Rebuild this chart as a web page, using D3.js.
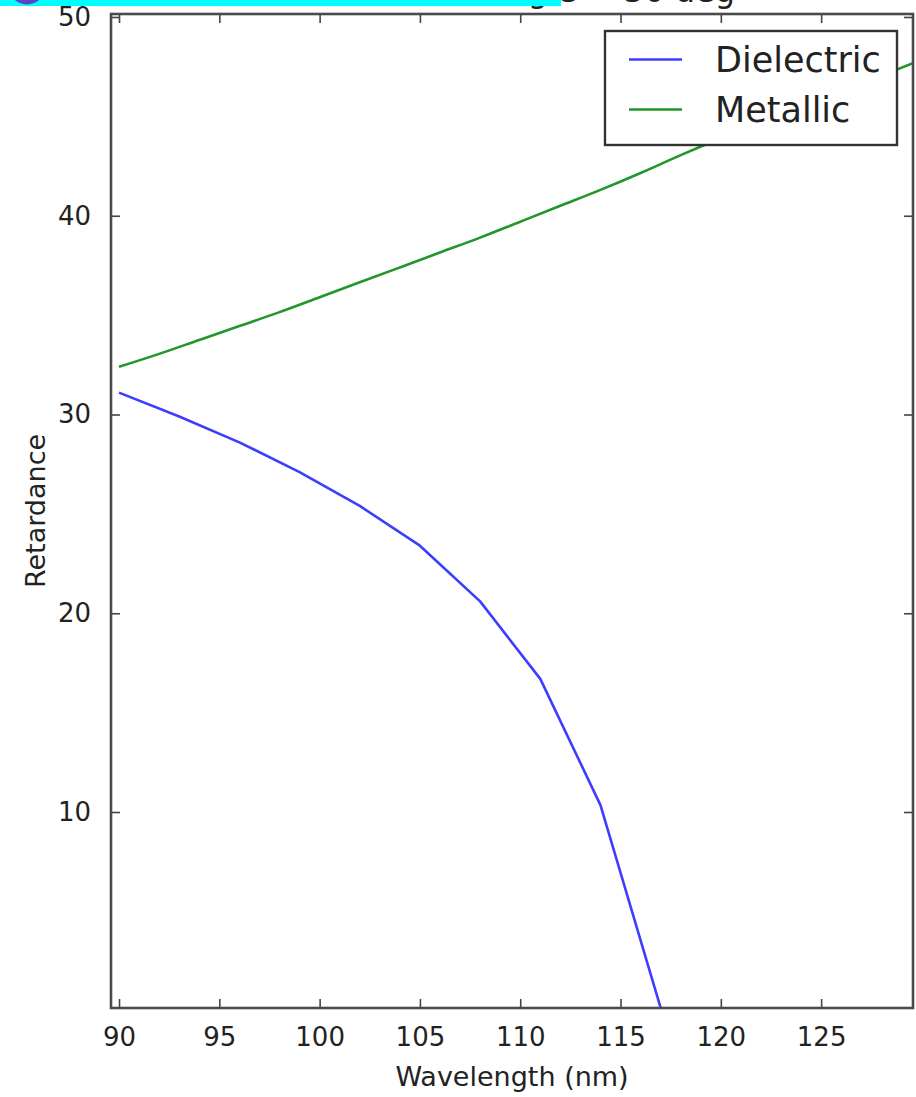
<!DOCTYPE html>
<html>
<head>
<meta charset="utf-8">
<script src="https://cdn.jsdelivr.net/npm/d3@7"></script>
<style>
  html, body { margin: 0; padding: 0; background: #fff; }
  svg { display: block; }
  text { font-family: "DejaVu Sans", sans-serif; fill: #222; }
</style>
</head>
<body>
<svg id="chart" width="916" height="1097"></svg>
<script>
// ---- data ----
const dielectricX = [90, 93, 96, 99, 102, 105, 108, 111, 114, 117];
const dielectricY = [31.1, 29.9, 28.6, 27.1, 25.4, 23.4, 20.6, 16.7, 10.35, 0.15];
const metallicX = [90, 92, 94, 96, 98, 100, 102, 104, 106, 108, 110, 112, 114, 116, 118, 120, 122, 124, 126, 128, 130];
const metallicY = [32.4, 33.05, 33.75, 34.45, 35.15, 35.9, 36.65, 37.4, 38.15, 38.9, 39.7, 40.5, 41.3, 42.15, 43.05, 43.9, 44.7, 45.5, 46.3, 47.05, 47.85];
const xTicks = [90, 95, 100, 105, 110, 115, 120, 125];
const yTicks = [10, 20, 30, 40, 50];
const seriesNames = ["Dielectric", "Metallic"];
const seriesColors = ["#3d3dff", "#22962a"];
const xDomain = [89.6, 129.58];
const yDomain = [0.14, 50.15];
const titleText = "Incidence angle = 50 deg";

// ---- layout ----
const L = 111, R = 913, T = 14, B = 1008;
const svg = d3.select("#chart");
const x = d3.scaleLinear().domain(xDomain).range([L, R]);
const y = d3.scaleLinear().domain(yDomain).range([B, T]);

// title (mostly cut off at the top)
svg.append("text").attr("x", 735).attr("y", 2).attr("text-anchor", "end")
  .attr("font-size", 32).text(titleText);
// cyan band and purple circle over the top
svg.append("rect").attr("x", 0).attr("y", 0).attr("width", 561).attr("height", 6).attr("fill", "#00ffff");
svg.append("circle").attr("cx", 27).attr("cy", -14).attr("r", 18.5).attr("fill", "#5a44c8");

svg.append("defs").append("clipPath").attr("id", "clip")
  .append("rect").attr("x", L).attr("y", T).attr("width", R - L).attr("height", B - T);

const series = [
  dielectricX.map((v, i) => [v, dielectricY[i]]),
  metallicX.map((v, i) => [v, metallicY[i]])
];
const curves = [d3.curveLinear, d3.curveMonotoneX];
const g = svg.append("g").attr("clip-path", "url(#clip)");
series.forEach((s, i) => {
  const line = d3.line().x(d => x(d[0])).y(d => y(d[1])).curve(curves[i]);
  g.append("path").datum(s).attr("d", line).attr("fill", "none")
    .attr("stroke", seriesColors[i]).attr("stroke-width", 2.6).attr("stroke-linejoin", "round");
});

// ticks (inward, all four sides) using d3 axes
const tickColor = "#444";
function styleAxis(sel) {
  sel.select(".domain").remove();
  sel.selectAll(".tick line").attr("stroke", tickColor).attr("stroke-width", 1.6);
}
const bottomAx = svg.append("g").attr("transform", `translate(0,${B})`)
  .call(d3.axisBottom(x).tickValues(xTicks).tickSizeInner(-9).tickSizeOuter(0).tickPadding(20));
styleAxis(bottomAx);
bottomAx.selectAll(".tick text").attr("font-size", 26).attr("fill", "#222")
  .attr("font-family", "DejaVu Sans, sans-serif");
const topAx = svg.append("g").attr("transform", `translate(0,${T})`)
  .call(d3.axisTop(x).tickValues(xTicks).tickSizeInner(-9).tickSizeOuter(0).tickFormat(""));
styleAxis(topAx);
const leftAx = svg.append("g").attr("transform", `translate(${L},0)`)
  .call(d3.axisLeft(y).tickValues(yTicks).tickSizeInner(-9).tickSizeOuter(0).tickPadding(20));
styleAxis(leftAx);
leftAx.selectAll(".tick text").attr("font-size", 26).attr("fill", "#222")
  .attr("font-family", "DejaVu Sans, sans-serif");
const rightAx = svg.append("g").attr("transform", `translate(${R},0)`)
  .call(d3.axisRight(y).tickValues(yTicks).tickSizeInner(-9).tickSizeOuter(0).tickFormat(""));
styleAxis(rightAx);

// frame
svg.append("rect").attr("x", L).attr("y", T).attr("width", R - L).attr("height", B - T)
  .attr("fill", "none").attr("stroke", "#4a4a4a").attr("stroke-width", 2.6);

// axis labels
svg.append("text").attr("x", (L + R) / 2).attr("y", 1086).attr("text-anchor", "middle")
  .attr("font-size", 27).text("Wavelength (nm)");
svg.append("text").attr("transform", `translate(45,${(T + B) / 2}) rotate(-90)`)
  .attr("text-anchor", "middle").attr("font-size", 27).text("Retardance");

// legend
const lg = svg.append("g");
lg.append("rect").attr("x", 605).attr("y", 31).attr("width", 292).attr("height", 114)
  .attr("fill", "#fff").attr("stroke", "#333").attr("stroke-width", 2.4);
seriesNames.forEach((n, i) => {
  const yy = 59.5 + i * 50;
  lg.append("line").attr("x1", 629).attr("x2", 682).attr("y1", yy).attr("y2", yy)
    .attr("stroke", seriesColors[i]).attr("stroke-width", 2.6);
  lg.append("text").attr("x", 715).attr("y", yy + 12).attr("font-size", 35).text(n);
});
</script>
</body>
</html>
